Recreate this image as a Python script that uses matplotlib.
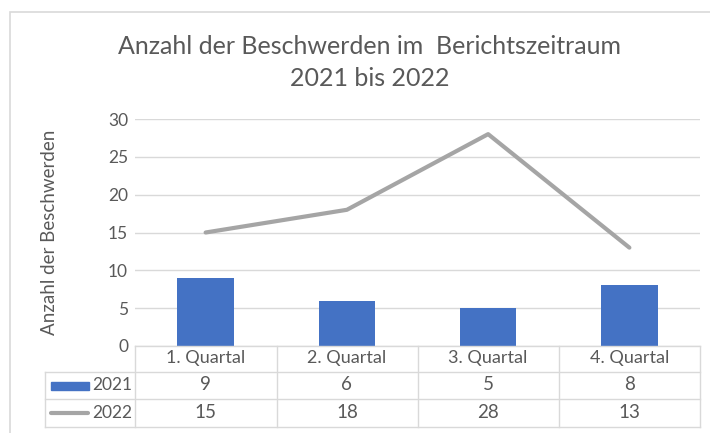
import numpy as np
import matplotlib.pyplot as plt
from matplotlib.patches import Rectangle
from matplotlib.lines import Line2D
import matplotlib.transforms as mtransforms

plt.rcParams['font.family'] = ['Lato', 'DejaVu Sans']

quartale = ["1. Quartal", "2. Quartal", "3. Quartal", "4. Quartal"]
jahre = ["2021", "2022"]
werte_2021 = [9, 6, 5, 8]
werte_2022 = [15, 18, 28, 13]

blau = '#4472C4'
grau = '#A5A5A5'
text_c = '#595959'
gitter = '#D9D9D9'

W, H = 710, 433
fig = plt.figure(figsize=(W / 100, H / 100), dpi=100)

# chart frame (Excel style)
fig.patches.append(Rectangle((10 / W, -0.1), 1.2, 1.1 - 12 / H, transform=fig.transFigure,
                             fill=False, edgecolor=gitter, lw=1.2))

def fx(px):
    return px / W

def fy(py):
    return 1 - py / H

ax = fig.add_axes([fx(135), fy(346), fx(700) - fx(135), fy(119) - fy(346)])

x = np.arange(len(quartale))
ax.bar(x, werte_2021, width=0.4, color=blau, zorder=2)
ax.plot(x, werte_2022, color=grau, lw=3, solid_capstyle='round', zorder=3)

ax.set_xlim(-0.5, 3.5)
ax.set_ylim(0, 30)
ax.set_yticks(range(0, 31, 5))
ax.set_xticks([])
ax.grid(axis='y', color=gitter, lw=1, zorder=0)
for s in ax.spines.values():
    s.set_visible(False)
ax.tick_params(axis='y', length=0, pad=5, labelsize=12.5, labelcolor=text_c)
ax.set_ylabel("Anzahl der Beschwerden", fontsize=13.5, color=text_c, labelpad=36)

fig.text(fx(370), fy(46), "Anzahl der Beschwerden im  Berichtszeitraum", ha='center', va='center',
         fontsize=18, color=text_c)
fig.text(fx(370), fy(78), "2021 bis 2022", ha='center', va='center', fontsize=18, color=text_c)

# data table below the axis
ft = fig.transFigure
bounds = [135, 277, 418, 559, 700]
rows_y = [346, 372, 399, 427]
lc = gitter
fig.add_artist(Line2D([fx(135), fx(700)], [fy(346)] * 2, color=lc, lw=1, transform=ft))
for ry in rows_y[1:]:
    fig.add_artist(Line2D([fx(45), fx(700)], [fy(ry)] * 2, color=lc, lw=1, transform=ft))
for bx in bounds:
    fig.add_artist(Line2D([fx(bx)] * 2, [fy(346), fy(427)], color=lc, lw=1, transform=ft))
fig.add_artist(Line2D([fx(45)] * 2, [fy(372), fy(427)], color=lc, lw=1, transform=ft))

trans = mtransforms.blended_transform_factory(ax.transData, ft)
for i, q in enumerate(quartale):
    fig.text(x[i], fy(358), q, transform=trans, ha='center', va='center', fontsize=13, color=text_c)
    fig.text(x[i], fy(385), str(werte_2021[i]), transform=trans, ha='center', va='center',
             fontsize=13.5, color=text_c)
    fig.text(x[i], fy(413), str(werte_2022[i]), transform=trans, ha='center', va='center',
             fontsize=13.5, color=text_c)

fig.text(fx(132), fy(385), jahre[0], ha='right', va='center', fontsize=12.5, color=text_c)
fig.text(fx(132), fy(413), jahre[1], ha='right', va='center', fontsize=12.5, color=text_c)
fig.patches.append(Rectangle((fx(51), fy(390)), fx(89) - fx(51), fy(382) - fy(390),
                             transform=ft, color=blau))
fig.add_artist(Line2D([fx(51), fx(88)], [fy(413)] * 2, color=grau, lw=3,
                      solid_capstyle='round', transform=ft))

fig.savefig("out.png", dpi=100)
